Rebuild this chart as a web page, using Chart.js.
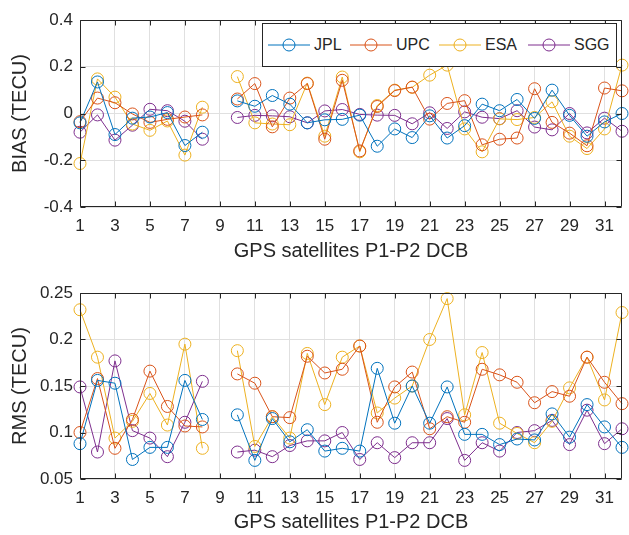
<!DOCTYPE html>
<html>
<head>
<meta charset="utf-8">
<script src="https://cdn.jsdelivr.net/npm/chart.js@4.4.1/dist/chart.umd.min.js"></script>
<style>
  html, body { margin: 0; padding: 0; background: #fff; }
  #wrap { position: relative; width: 629px; height: 535px; font-family: 'Liberation Sans', Arial, sans-serif; }
  canvas { position: absolute; left: 0; }
  #biasChart { top: 0; }
  #rmsChart { top: 268px; }
  #legend { position: absolute; left: 262px; top: 23px; width: 353px; height: 42px; border: 1px solid #262626; background: #fff; color: #262626; font-size: 16px; }
  .key { position: absolute; top: 0; height: 42px; display: flex; align-items: center; }
  .key svg { margin-right: 4px; }
</style>
</head>
<body>
<div id="wrap">
  <canvas id="biasChart" width="629" height="268"></canvas>
  <canvas id="rmsChart" width="629" height="267"></canvas>
  <div id="legend"></div>
</div>
<script>
// Satelitos GPS (PRN) y etiquetas de ejes
const satellites = [1, 2, 3, 4, 5, 6, 7, 8, 9, 10, 11, 12, 13, 14, 15, 16, 17, 18, 19, 20, 21, 22, 23, 24, 25, 26, 27, 28, 29, 30, 31, 32];
const xTickValues = [1, 3, 5, 7, 9, 11, 13, 15, 17, 19, 21, 23, 25, 27, 29, 31];
const biasTicks = [-0.4, -0.2, 0, 0.2, 0.4];
const biasTickLabels = ['-0.4', '-0.2', '0', '0.2', '0.4'];
const rmsTicks = [0.05, 0.1, 0.15, 0.2, 0.25];
const rmsTickLabels = ['0.05', '0.1', '0.15', '0.2', '0.25'];

const centres = ['JPL', 'UPC', 'ESA', 'SGG'];
const colours = ['#0072BD', '#D95319', '#EDB120', '#7E2F8E'];

// BIAS (TECU) - sat 9 sin datos
const biasJPL = [-0.04, 0.135, -0.09, -0.02, -0.015, 0.004, -0.137, -0.08, null, 0.054, 0.031, 0.077, 0.04, -0.04, -0.027, -0.025, -0.007, -0.14, -0.066, -0.103, -0.01, -0.105, -0.052, 0.04, 0.012, 0.06, -0.021, 0.1, -0.008, -0.097, -0.036, 0.0];
const biasUPC = [-0.035, 0.066, 0.046, -0.002, -0.038, -0.025, -0.015, -0.006, null, 0.062, 0.128, -0.057, 0.066, 0.128, -0.11, 0.142, -0.16, 0.03, 0.098, 0.113, -0.024, 0.043, 0.055, -0.134, -0.11, -0.105, 0.106, -0.038, -0.084, -0.138, 0.109, 0.097];
const biasESA = [-0.214, 0.148, 0.07, -0.045, -0.072, -0.032, -0.178, 0.027, null, 0.158, -0.04, -0.045, -0.048, 0.13, -0.097, 0.156, -0.164, 0.034, 0.1, 0.112, 0.164, 0.207, -0.066, -0.164, -0.023, -0.026, -0.017, 0.05, -0.097, -0.15, -0.066, 0.207];
const biasSGG = [-0.08, -0.006, -0.114, -0.05, 0.018, 0.012, -0.033, -0.11, null, -0.017, -0.008, -0.01, -0.014, -0.04, 0.011, 0.017, -0.004, -0.007, -0.008, -0.044, 0.003, -0.064, 0.007, -0.016, -0.022, 0.012, -0.058, -0.07, 0.0, -0.083, -0.02, -0.076];

// RMS (TECU)
const rmsJPL = [0.088, 0.156, 0.153, 0.071, 0.084, 0.084, 0.156, 0.114, null, 0.119, 0.07, 0.115, 0.09, 0.103, 0.08, 0.083, 0.08, 0.169, 0.11, 0.15, 0.11, 0.149, 0.098, 0.098, 0.087, 0.093, 0.092, 0.12, 0.095, 0.13, 0.106, 0.084];
const rmsUPC = [0.1, 0.158, 0.083, 0.114, 0.166, 0.128, 0.107, 0.106, null, 0.163, 0.153, 0.117, 0.116, 0.182, 0.164, 0.168, 0.193, 0.111, 0.149, 0.165, 0.104, 0.117, 0.111, 0.168, 0.162, 0.154, 0.132, 0.144, 0.139, 0.181, 0.154, 0.131];
const rmsESA = [0.232, 0.181, 0.094, 0.112, 0.142, 0.108, 0.195, 0.083, null, 0.188, 0.085, 0.117, 0.094, 0.185, 0.13, 0.181, 0.193, 0.121, 0.137, 0.15, 0.2, 0.244, 0.119, 0.186, 0.11, 0.099, 0.089, 0.112, 0.148, 0.181, 0.135, 0.229];
const rmsSGG = [0.149, 0.079, 0.177, 0.102, 0.094, 0.074, 0.111, 0.155, null, 0.079, 0.081, 0.074, 0.086, 0.091, 0.091, 0.1, 0.071, 0.089, 0.073, 0.089, 0.089, 0.115, 0.07, 0.089, 0.08, 0.1, 0.102, 0.113, 0.087, 0.124, 0.088, 0.104];

const FONT = "'Liberation Sans', Arial, sans-serif";
const INK = '#262626';

// Caja estilo MATLAB con marcas hacia dentro
const boxPlugin = {
    id: 'matlabBox',
    afterDatasetsDraw(chart) {
        const { ctx, chartArea: a, scales: { x, y } } = chart;
        const L = Math.round(a.left) + 0.5, R = Math.round(a.right) - 0.5;
        const T = Math.round(a.top) + 0.5, B = Math.round(a.bottom) - 0.5;
        const tl = 5;
        ctx.save();
        ctx.strokeStyle = INK;
        ctx.lineWidth = 1;
        ctx.beginPath();
        ctx.rect(L, T, R - L, B - T);
        x.ticks.forEach(t => {
            const px = Math.round(x.getPixelForValue(t.value)) + 0.5;
            ctx.moveTo(px, B); ctx.lineTo(px, B - tl);
            ctx.moveTo(px, T); ctx.lineTo(px, T + tl);
        });
        y.ticks.forEach(t => {
            const py = Math.round(y.getPixelForValue(t.value)) + 0.5;
            ctx.moveTo(L, py); ctx.lineTo(L + tl, py);
            ctx.moveTo(R, py); ctx.lineTo(R - tl, py);
        });
        ctx.stroke();
        ctx.restore();
    }
};

function makeChart(id, series, yTicks, yLabels, yTitle, topPad, xHeight, titlePad) {
    return new Chart(document.getElementById(id), {
        type: 'line',
        data: {
            datasets: series.map((s, i) => ({
                label: centres[i],
                data: satellites.map((sat, k) => ({ x: sat, y: s[k] })),
                borderColor: colours[i],
                backgroundColor: 'rgba(0,0,0,0)',
                borderWidth: 1,
                pointRadius: 6,
                pointHoverRadius: 6,
                pointBorderWidth: 1,
                pointBackgroundColor: 'rgba(0,0,0,0)',
                pointBorderColor: colours[i],
                tension: 0,
                spanGaps: false,
                clip: false
            }))
        },
        options: {
            responsive: false,
            animation: false,
            devicePixelRatio: 1,
            events: [],
            layout: { padding: { top: topPad, right: 6, left: 0, bottom: 0 } },
            plugins: { legend: { display: false }, tooltip: { enabled: false } },
            scales: {
                x: {
                    type: 'linear',
                    min: 1,
                    max: 32,
                    afterBuildTicks: s => { s.ticks = xTickValues.map(v => ({ value: v })); },
                    afterFit: s => { s.height = xHeight; },
                    grid: { color: '#e0e0e0', drawTicks: false },
                    border: { display: false },
                    ticks: { padding: 9, color: INK, autoSkip: false, maxRotation: 0, font: { family: FONT, size: 17 }, callback: v => String(v) },
                    title: { display: true, text: 'GPS satellites P1-P2 DCB', color: INK, font: { family: FONT, size: 20 }, padding: { top: 0, bottom: titlePad } }
                },
                y: {
                    min: yTicks[0],
                    max: yTicks[yTicks.length - 1],
                    afterBuildTicks: s => { s.ticks = yTicks.map(v => ({ value: v })); },
                    afterFit: s => { s.width = 80; },
                    grid: { color: '#e0e0e0', drawTicks: false },
                    border: { display: false },
                    ticks: { padding: 7, color: INK, font: { family: FONT, size: 17 }, callback: (v, i) => yLabels[i] },
                    title: { display: true, text: yTitle, color: INK, font: { family: FONT, size: 20 }, padding: { top: 8, bottom: 0 } }
                }
            }
        },
        plugins: [boxPlugin]
    });
}

makeChart('biasChart', [biasJPL, biasUPC, biasESA, biasSGG], biasTicks, biasTickLabels, 'BIAS (TECU)', 20, 61, 5);
makeChart('rmsChart', [rmsJPL, rmsUPC, rmsESA, rmsSGG], rmsTicks, rmsTickLabels, 'RMS (TECU)', 25, 56, 1);

// Leyenda (recuadro dentro del gráfico superior)
const legendLeft = [5, 87, 176, 265];
const legend = document.getElementById('legend');
centres.forEach((name, i) => {
    const key = document.createElement('div');
    key.className = 'key';
    key.style.left = legendLeft[i] + 'px';
    key.innerHTML = '<svg width="42" height="14"><line x1="0" y1="7" x2="42" y2="7" stroke="' + colours[i] +
        '" stroke-width="1"/><circle cx="21" cy="7" r="6" fill="none" stroke="' + colours[i] + '" stroke-width="1"/></svg>' +
        '<span>' + name + '</span>';
    legend.appendChild(key);
});
</script>
</body>
</html>
